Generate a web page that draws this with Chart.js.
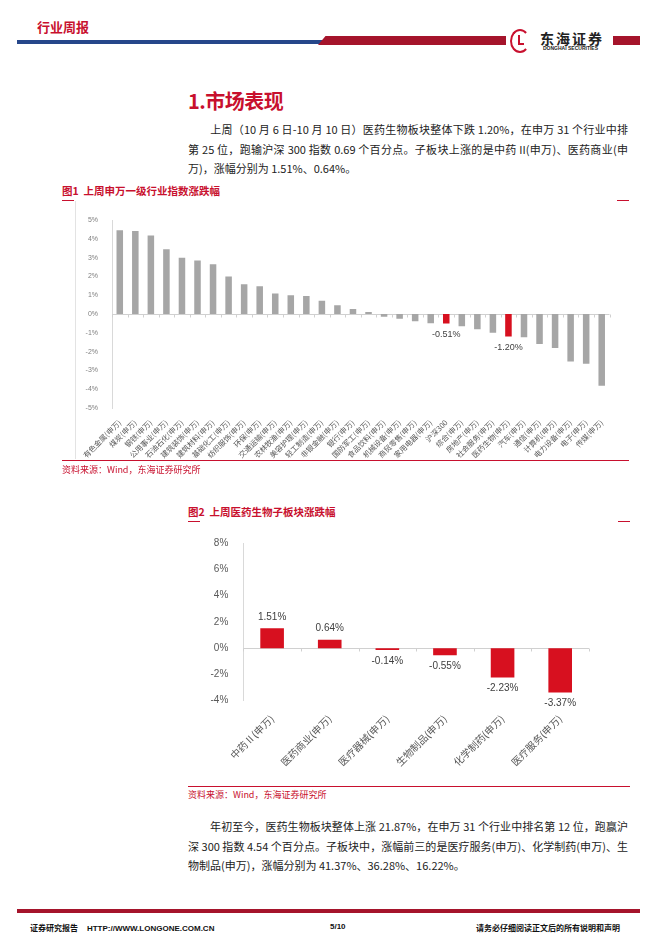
<!DOCTYPE html>
<html>
<head>
<meta charset="utf-8">
<script src="https://cdn.jsdelivr.net/npm/chart.js@4.4.0/dist/chart.umd.min.js"></script>
<style>
  html, body { margin: 0; padding: 0; background: #fff; }
  body { width: 662px; height: 936px; position: relative; overflow: hidden;
         font-family: "Noto Sans CJK SC", "Noto Sans", sans-serif; color: #222; }
  .abs { position: absolute; }
  .red { color: #c8102e; }
  .para { position: absolute; left: 188px; width: 440px; font-size: 11px; color: #222; }
  .para div { height: 19.5px; line-height: 19.5px; white-space: nowrap; }
  .para .j { text-align: justify; text-align-last: justify; white-space: normal; }
  .figtitle { position: absolute; font-size: 10.5px; font-weight: bold; color: #c8102e; }
  .mark { position: absolute; height: 1px; background: #c8102e; width: 12px; }
  .src { position: absolute; font-size: 9px; color: #c8102e; }
  .rule { position: absolute; height: 1px; background: #c8102e; }
  .foot { position: absolute; top: 922px; font-size: 8px; font-weight: bold; color: #111;
          font-family: "Liberation Sans", "Noto Sans CJK SC", sans-serif; }
</style>
</head>
<body>
<!-- header -->
<div class="abs red" style="left:37px;top:17px;font-size:13px;font-weight:bold;">行业周报</div>
<div class="abs" style="left:17px;top:40px;width:306px;height:4px;background:#26478a;"></div>
<div class="abs" style="left:318px;top:36px;width:188px;height:9px;background:#a5142b;clip-path:polygon(4% 0,100% 0,100% 100%,0 100%);"></div>
<div class="abs" style="left:510px;top:29px;width:20px;height:24px;border:2px solid #c8102e;border-radius:50%;border-right-color:transparent;box-sizing:border-box;"></div>
<div class="abs" style="left:518px;top:35px;width:6px;height:10px;border-left:2px solid #c8102e;border-bottom:2px solid #c8102e;box-sizing:border-box;"></div>
<div class="abs" style="left:540px;top:28px;font-size:14px;font-weight:bold;color:#222;letter-spacing:2px;">东海证券</div>
<div class="abs" style="left:543px;top:45px;font-size:5px;font-weight:bold;color:#222;font-family:'Liberation Sans',sans-serif;">DONGHAI SECURITIES</div>
<div class="abs" style="left:613px;top:36px;width:27px;height:9px;background:#a5142b;"></div>

<div class="abs red" style="left:188px;top:86px;font-size:20px;font-weight:bold;letter-spacing:-0.5px;">1.市场表现</div>
<div class="para" style="top:120px;">
  <div class="j">&emsp;&emsp;上周（10 月 6 日-10 月 10 日）医药生物板块整体下跌 1.20%，在申万 31 个行业中排</div>
  <div class="j">第 25 位，跑输沪深 300 指数 0.69 个百分点。子板块上涨的是中药 II(申万)、医药商业(申</div>
  <div>万)，涨幅分别为 1.51%、0.64%。</div>
</div>

<!-- figure 1 -->
<div class="figtitle" style="left:62px;top:183px;">图1&nbsp; 上周申万一级行业指数涨跌幅</div>
<div class="mark" style="left:62px;top:200px;"></div>
<div class="mark" style="left:617px;top:200px;"></div>
<div class="abs" style="left:75px;top:201px;width:1px;height:258px;background:#e3e3e3;"></div>
<div class="abs" style="left:62px;top:205px;width:566px;height:257px;"><canvas id="c1"></canvas></div>
<div class="rule" style="left:62px;top:460px;width:567px;"></div>
<div class="src" style="left:62px;top:463px;">资料来源：Wind，东海证券研究所</div>

<!-- figure 2 -->
<div class="figtitle" style="left:188px;top:504px;">图2&nbsp; 上周医药生物子板块涨跌幅</div>
<div class="mark" style="left:188px;top:521px;"></div>
<div class="mark" style="left:618px;top:521px;"></div>
<div class="abs" style="left:188px;top:530px;width:442px;height:250px;"><canvas id="c2"></canvas></div>
<div class="rule" style="left:188px;top:786px;width:442px;"></div>
<div class="src" style="left:188px;top:788px;">资料来源：Wind，东海证券研究所</div>

<div class="para" style="top:817px;">
  <div class="j">&emsp;&emsp;年初至今，医药生物板块整体上涨 21.87%，在申万 31 个行业中排名第 12 位，跑赢沪</div>
  <div class="j">深 300 指数 4.54 个百分点。子板块中，涨幅前三的是医疗服务(申万)、化学制药(申万)、生</div>
  <div>物制品(申万)，涨幅分别为 41.37%、36.28%、16.22%。</div>
</div>

<!-- footer -->
<div class="abs" style="left:17px;top:909px;width:623px;height:4px;background:#a5142b;"></div>
<div class="foot" style="left:30px;">证券研究报告&nbsp;&nbsp;&nbsp; HTTP://WWW.LONGONE.COM.CN</div>
<div class="foot" style="left:330px;">5/10</div>
<div class="foot" style="left:476px;">请务必仔细阅读正文后的所有说明和声明</div>

<script>
// 图1 data
const industries = ["有色金属(申万)", "煤炭(申万)", "钢铁(申万)", "公用事业(申万)", "石油石化(申万)",
  "建筑装饰(申万)", "建筑材料(申万)", "基础化工(申万)", "纺织服饰(申万)", "环保(申万)",
  "交通运输(申万)", "农林牧渔(申万)", "美容护理(申万)", "轻工制造(申万)", "非银金融(申万)",
  "银行(申万)", "国防军工(申万)", "食品饮料(申万)", "机械设备(申万)", "商贸零售(申万)",
  "家用电器(申万)", "沪深300", "综合(申万)", "房地产(申万)", "社会服务(申万)",
  "医药生物(申万)", "汽车(申万)", "通信(申万)", "计算机(申万)", "电力设备(申万)",
  "电子(申万)", "传媒(申万)"];
const industryChange = [4.45, 4.41, 4.18, 3.45, 2.99, 2.85, 2.65, 1.99, 1.58, 1.48,
  1.09, 1.00, 0.96, 0.70, 0.47, 0.26, 0.10, -0.14, -0.25, -0.39,
  -0.49, -0.51, -0.65, -0.81, -1.00, -1.20, -1.24, -1.60, -1.81, -2.52,
  -2.65, -3.82];
const highlighted = ["沪深300", "医药生物(申万)"];

// 图2 data
const subSectors = ["中药Ⅱ(申万)", "医药商业(申万)", "医疗器械(申万)", "生物制品(申万)", "化学制药(申万)", "医疗服务(申万)"];
const subChange = [1.51, 0.64, -0.14, -0.55, -2.23, -3.37];

const RED = "#d7101f";
const GREY = "#a6a6a6";

// value labels above / below bars
const barLabels = {
  id: "barLabels",
  afterDatasetsDraw(chart, args, opts) {
    const ctx = chart.ctx;
    const meta = chart.getDatasetMeta(0);
    const vals = chart.data.datasets[0].data;
    ctx.save();
    ctx.font = opts.font;
    ctx.fillStyle = "#404040";
    ctx.textAlign = "center";
    ctx.textBaseline = "middle";
    meta.data.forEach((bar, i) => {
      if (opts.only && !opts.only(i)) return;
      const v = vals[i];
      const y = v >= 0 ? bar.y - opts.gap : bar.y + opts.gap;
      ctx.fillText(v.toFixed(2) + "%", bar.x, y);
    });
    ctx.restore();
  }
};

// zero line with small ticks between categories
const zeroAxis = {
  id: "zeroAxis",
  beforeDatasetsDraw(chart) {
    const { ctx, scales: { x, y } } = chart;
    const y0 = Math.round(y.getPixelForValue(0)) + 0.5;
    const n = chart.data.labels.length;
    ctx.save();
    ctx.strokeStyle = "#d0d0d0";
    ctx.lineWidth = 1;
    ctx.beginPath();
    ctx.moveTo(chart.chartArea.left, y0);
    ctx.lineTo(chart.chartArea.right, y0);
    for (let i = 0; i <= n; i++) {
      const px = Math.round(x.getPixelForValue(i - 0.5)) + 0.5;
      ctx.moveTo(px, y0);
      ctx.lineTo(px, y0 + 3);
    }
    ctx.stroke();
    ctx.restore();
  }
};

Chart.defaults.font.family = '"Noto Sans CJK SC", "Noto Sans", sans-serif';
Chart.defaults.animation = false;

new Chart(document.getElementById("c1"), {
  type: "bar",
  data: {
    labels: industries,
    datasets: [{
      data: industryChange,
      backgroundColor: industries.map(n => highlighted.includes(n) ? RED : GREY),
      barPercentage: 0.42,
      categoryPercentage: 1
    }]
  },
  options: {
    responsive: true,
    maintainAspectRatio: false,
    layout: { padding: { top: 15, right: 18.5, left: 0, bottom: 0 } },
    plugins: {
      legend: { display: false },
      tooltip: { enabled: false },
      barLabels: {
        font: '9px "Liberation Sans", sans-serif',
        gap: 11,
        only: i => highlighted.includes(industries[i])
      }
    },
    scales: {
      x: {
        grid: { display: false },
        border: { display: false },
        ticks: { color: "#595959", font: { size: 7.5 }, maxRotation: 45, minRotation: 45, autoSkip: false, padding: 2 },
        afterFit: s => { s.height = 54; }
      },
      y: {
        min: -5, max: 5,
        grid: { display: false },
        border: { display: true, color: "#d9d9d9" },
        ticks: { stepSize: 1, color: "#7f7f7f", font: { size: 7, family: '"Liberation Sans", sans-serif' }, padding: 6, callback: v => v + "%" },
        afterFit: s => { s.width = 50; }
      }
    }
  },
  plugins: [zeroAxis, barLabels]
});

new Chart(document.getElementById("c2"), {
  type: "bar",
  data: {
    labels: subSectors,
    datasets: [{
      data: subChange,
      backgroundColor: RED,
      barPercentage: 0.41,
      categoryPercentage: 1
    }]
  },
  options: {
    responsive: true,
    maintainAspectRatio: false,
    layout: { padding: { top: 12.7, right: 41, left: 0, bottom: 0 } },
    plugins: {
      legend: { display: false },
      tooltip: { enabled: false },
      barLabels: { font: '10px "Liberation Sans", sans-serif', gap: 11 }
    },
    scales: {
      x: {
        grid: { display: false },
        border: { display: false },
        ticks: { color: "#595959", font: { size: 10 }, maxRotation: 45, minRotation: 45, autoSkip: false, padding: 4 },
        afterFit: s => { s.height = 79.3; }
      },
      y: {
        min: -4, max: 8,
        grid: { display: false },
        border: { display: true, color: "#d9d9d9" },
        ticks: { stepSize: 2, color: "#595959", font: { size: 10, family: '"Liberation Sans", sans-serif' }, padding: 7, callback: v => v + "%" },
        afterFit: s => { s.width = 55.3; }
      }
    }
  },
  plugins: [zeroAxis, barLabels]
});
</script>
</body>
</html>
